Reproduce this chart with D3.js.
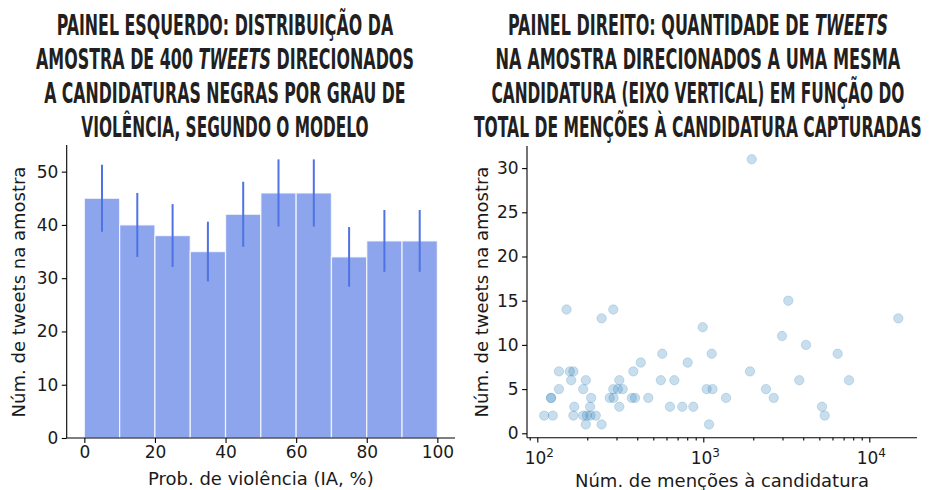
<!DOCTYPE html>
<html><head><meta charset="utf-8">
<script src="https://cdn.jsdelivr.net/npm/d3@7"></script>
<style>body{margin:0;background:#fff}svg{display:block}</style>
</head><body>
<script>
// ---------- DATA ----------
const binStarts = [0, 10, 20, 30, 40, 50, 60, 70, 80, 90];
const binWidth = 10;
const counts = [45, 40, 38, 35, 42, 46, 46, 34, 37, 37];
const errLow = [38.7, 34.0, 32.1, 29.4, 35.9, 39.7, 39.7, 28.4, 31.2, 31.2];
const errHigh = [51.3, 46.0, 43.9, 40.6, 48.1, 52.3, 52.3, 39.6, 42.8, 42.8];
const leftXTicks = [0, 20, 40, 60, 80, 100];
const leftYTicks = [0, 10, 20, 30, 40, 50];

const mentions = [1957, 3251, 150, 287, 244, 14950, 992, 2979, 4155,
  566, 1124, 6450, 420, 805,
  135, 157, 165, 379, 1911,
  160, 196, 312, 555, 669, 3786, 7547,
  135, 189, 287, 306, 327, 1047, 1137, 2386,
  121, 121, 211, 273, 288, 371, 388, 466, 1371, 2655,
  167, 208, 312, 630, 747, 871, 5188,
  110, 124, 165, 189, 199, 209, 225, 5387,
  196, 244, 1083];
const tweets = [31, 15, 14, 14, 13, 13, 12, 11, 10,
  9, 9, 9, 8, 8,
  7, 7, 7, 7, 7,
  6, 6, 6, 6, 6, 6, 6,
  5, 5, 5, 5, 5, 5, 5, 5,
  4, 4, 4, 4, 4, 4, 4, 4, 4, 4,
  3, 3, 3, 3, 3, 3, 3,
  2, 2, 2, 2, 2, 2, 2, 2,
  1, 1, 1];
const rightYTicks = [0, 5, 10, 15, 20, 25, 30];

const leftTitle = [
  [["PAINEL ESQUERDO: DISTRIBUIÇÃO DA", false]],
  [["AMOSTRA DE 400 ", false], ["TWEETS", true], [" DIRECIONADOS", false]],
  [["A CANDIDATURAS NEGRAS POR GRAU DE", false]],
  [["VIOLÊNCIA, SEGUNDO O MODELO", false]]
];
const rightTitle = [
  [["PAINEL DIREITO: QUANTIDADE DE ", false], ["TWEETS", true]],
  [["NA AMOSTRA DIRECIONADOS A UMA MESMA", false]],
  [["CANDIDATURA (EIXO VERTICAL) EM FUNÇÃO DO", false]],
  [["TOTAL DE MENÇÕES À CANDIDATURA CAPTURADAS", false]]
];
const leftXLabel = "Prob. de violência (IA, %)";
const rightXLabel = "Núm. de menções à candidatura";
const yLabel = "Núm. de tweets na amostra";

// ---------- LAYOUT ----------
const W = 931, H = 490;
const titleBaselines = [35, 69, 102.8, 136.5];
const leftTitleWidths = [336.7, 378, 361.7, 287.3];
const rightTitleWidths = [380, 405, 413, 448];
const font = "'DejaVu Sans', sans-serif";
const tickFont = "17px", labelFont = "18px";

const svg = d3.select("body").append("svg").attr("width", W).attr("height", H);

function drawTitle(lines, widths, cx) {
  lines.forEach((segs, i) => {
    const t = svg.append("text")
      .attr("x", 0).attr("y", 0)
      .style("font-family", "'Liberation Sans Narrow', 'DejaVu Sans Condensed', 'DejaVu Sans', sans-serif")
      .style("font-stretch", "condensed")
      .style("font-weight", "bold")
      .style("font-size", "29px")
      .attr("fill", "#231f20");
    segs.forEach(([s, it]) => {
      t.append("tspan").text(s).style("font-style", it ? "italic" : "normal");
    });
    const w = t.node().getComputedTextLength();
    const sx = widths[i] / w;
    t.attr("transform", `translate(${cx - widths[i] / 2},${titleBaselines[i]}) scale(${sx},1)`);
  });
}
drawTitle(leftTitle, leftTitleWidths, 225);
drawTitle(rightTitle, rightTitleWidths, 698);

// ---------- LEFT PANEL ----------
const lx = d3.scaleLinear().domain([-5, 105]).range([66.7, 455]);
const ly = d3.scaleLinear().domain([0, 55]).range([438, 145]);
const gL = svg.append("g");

gL.selectAll("rect.bar").data(counts).enter().append("rect")
  .attr("x", (d, i) => lx(binStarts[i]))
  .attr("width", (d, i) => lx(binStarts[i] + binWidth) - lx(binStarts[i]))
  .attr("y", d => ly(d))
  .attr("height", d => ly(0) - ly(d))
  .attr("fill", "#8ca5ec")
  .attr("stroke", "#ffffff")
  .attr("stroke-opacity", 0.75)
  .attr("stroke-width", 1.3);

gL.selectAll("line.err").data(counts).enter().append("line")
  .attr("x1", (d, i) => lx(binStarts[i] + binWidth / 2))
  .attr("x2", (d, i) => lx(binStarts[i] + binWidth / 2))
  .attr("y1", (d, i) => ly(errLow[i]))
  .attr("y2", (d, i) => ly(errHigh[i]))
  .attr("stroke", "#4f72e4")
  .attr("stroke-width", 2);

const axLB = gL.append("g").attr("transform", `translate(0,${ly(0)})`)
  .call(d3.axisBottom(lx).tickValues(leftXTicks).tickSize(4.9).tickPadding(3.5).tickFormat(d3.format("d")));
axLB.select(".domain").attr("d", `M${lx(-5)},0H${lx(105)}`);
const axLL = gL.append("g").attr("transform", `translate(${lx(-5)},0)`)
  .call(d3.axisLeft(ly).tickValues(leftYTicks).tickSize(4.9).tickPadding(3.5).tickFormat(d3.format("d")));
axLL.select(".domain").attr("d", `M0,${ly(55)}V${ly(0)}`);

gL.append("text").attr("x", (66.7 + 455) / 2).attr("y", 485)
  .attr("text-anchor", "middle").text(leftXLabel);
gL.append("text").attr("transform", `translate(25,292) rotate(-90)`)
  .attr("text-anchor", "middle").text(yLabel);

// ---------- RIGHT PANEL ----------
const rx = d3.scaleLog().domain([Math.pow(10, 2 - 10.3 / 166), Math.pow(10, 2 + 379.7 / 166)]).range([527, 917]);
const ry = d3.scaleLinear().domain([-0.5, 32.5]).range([437.7, 146]);
const gR = svg.append("g");

gR.selectAll("circle").data(tweets).enter().append("circle")
  .attr("cx", (d, i) => rx(mentions[i]))
  .attr("cy", d => ry(d))
  .attr("r", 4.7)
  .attr("fill", "#1f77b4")
  .attr("fill-opacity", 0.24)
  .attr("stroke", "#1f77b4")
  .attr("stroke-opacity", 0.2)
  .attr("stroke-width", 1);

const allTicks = rx.ticks();
const isMajor = v => Math.abs(Math.log10(v) - Math.round(Math.log10(v))) < 1e-9;
const majors = allTicks.filter(isMajor);
const minors = allTicks.filter(v => !isMajor(v));

const axRB = gR.append("g").attr("transform", `translate(0,${ry(-0.5)})`);
axRB.call(d3.axisBottom(rx).tickValues(minors).tickSize(2.8).tickFormat(""));
axRB.select(".domain").attr("d", `M527,0H917`);
const axRB2 = gR.append("g").attr("transform", `translate(0,${ry(-0.5)})`);
axRB2.call(d3.axisBottom(rx).tickValues(majors).tickSize(4.9).tickFormat(""));
axRB2.select(".domain").remove();
majors.forEach(v => {
  const e = Math.round(Math.log10(v));
  const t = gR.append("text").attr("class", "exp").attr("x", rx(v) + 2).attr("y", 464)
    .attr("text-anchor", "middle").style("font-size", tickFont);
  t.append("tspan").text("10");
  t.append("tspan").text(e).attr("dy", -7.5).style("font-size", "12px");
});

const axRL = gR.append("g").attr("transform", `translate(527,0)`)
  .call(d3.axisLeft(ry).tickValues(rightYTicks).tickSize(4.9).tickPadding(3.5).tickFormat(d3.format("d")));
axRL.select(".domain").attr("d", `M0,146V437.7`);

gR.append("text").attr("x", 722).attr("y", 487).attr("text-anchor", "middle").text(rightXLabel);
gR.append("text").attr("transform", `translate(488,292) rotate(-90)`)
  .attr("text-anchor", "middle").text(yLabel);

// styling
svg.selectAll("text").filter(function(){ return !this.style.fontFamily; })
  .style("font-family", font).style("font-size", function(){ return this.style.fontSize || labelFont; })
  .attr("fill", "#1a1a1a");
svg.selectAll(".tick text").style("font-family", font).style("font-size", tickFont).attr("fill", "#1a1a1a");
svg.selectAll(".domain, .tick line").attr("stroke", "#000").attr("stroke-width", 1.1);
</script>
</body></html>
